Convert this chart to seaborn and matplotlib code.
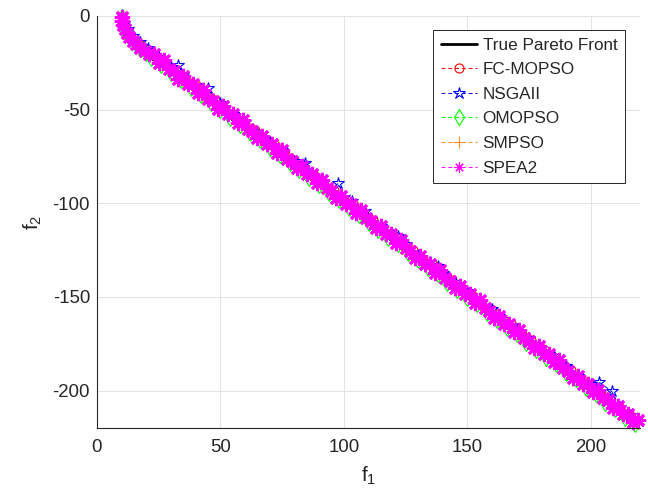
import matplotlib
matplotlib.use("Agg")
import matplotlib.pyplot as plt
import seaborn as sns

# ---------------- data ----------------
true_f1 = [10.0, 10.1, 10.4, 10.9, 11.6, 12.5, 13.7, 15.1, 16.7, 18.5, 20.4, 22.4,
           60.0, 100.0, 140.0, 180.0, 219.5]
true_f2 = [0.0, -2.6, -5.1, -7.5, -9.8, -12.0, -14.1, -16.1, -18.0, -19.8, -21.5, -23.1,
           -60.5, -100.5, -140.5, -180.5, -220.0]

fcmopso_f1 = [10.2, 10.5, 11.2, 12.2, 13.5, 15.1, 17.0, 19.1, 21.4,
              24, 28, 32, 36, 40, 44, 48, 52, 56, 60, 64, 68, 72, 76, 80, 84, 88, 92, 96,
              100, 104, 108, 112, 116, 120, 124, 128, 132, 136, 140, 144, 148, 152, 156,
              160, 164, 168, 172, 176, 180, 184, 188, 192, 196, 200, 204, 208, 212, 216]
fcmopso_f2 = [-0.5, -3.0, -5.6, -8.1, -10.5, -12.8, -15.0, -17.1, -19.1,
              -21.1, -25.8, -28.8, -33.5, -37.1, -41.8, -44.8, -49.5, -53.1, -57.8, -60.8,
              -65.5, -69.1, -73.8, -76.8, -81.5, -85.1, -89.8, -92.8, -97.5, -101.1, -105.8,
              -108.8, -113.5, -117.1, -121.8, -124.8, -129.5, -133.1, -137.8, -140.8, -145.5,
              -149.1, -153.8, -156.8, -161.5, -165.1, -169.8, -172.8, -177.5, -181.1, -185.8,
              -188.8, -193.5, -197.1, -201.8, -204.8, -209.5, -213.1]

nsgaii_f1 = [10.3, 11.0, 12.4, 14.6, 17.4, 20.5, 25, 30, 32.9, 35, 40, 45, 50, 55, 60, 65,
             70, 75, 80, 84.4, 90, 95, 97.8, 100, 103.4, 108.7, 115, 120, 122, 125, 130,
             135, 138, 140, 145, 150, 155, 160, 165, 170, 175, 180, 185, 190, 195, 200,
             203.2, 208.5, 212, 216, 219.5]
nsgaii_f2 = [0.3, -3.5, -7.0, -10.5, -13.8, -17.0, -21.7, -27.4, -26.3, -31.5, -37.0, -38.6,
             -46.7, -52.4, -56.5, -62.0, -67.2, -71.7, -77.4, -78.5, -87.0, -92.2, -89.4,
             -96.7, -99.0, -104.3, -112.0, -117.2, -117.3, -121.7, -127.4, -131.5, -133.3,
             -137.0, -142.2, -146.7, -152.4, -156.5, -162.0, -167.2, -171.7, -177.4, -181.5,
             -187.0, -192.2, -196.7, -195.3, -200.4, -209.0, -213.0, -216.5]

omopso_f1 = [10.0, 10.2, 10.7, 11.5, 12.6, 14.0, 15.7, 17.6, 19.7,
             22, 26, 30, 34, 38, 42, 46, 50, 54, 58, 62, 66, 70, 74, 78, 82, 86, 90, 94, 98,
             102, 106, 110, 114, 118, 122, 126, 130, 134, 138, 142, 146, 150, 154, 158, 162,
             166, 170, 174, 178, 182, 186, 190, 194, 198, 202, 206, 210, 214, 218]
omopso_f2 = [-0.4, -3.0, -5.7, -8.3, -10.9, -13.3, -15.6, -17.8, -19.9,
             -22.4, -26.0, -30.6, -34.1, -38.4, -42.0, -46.6, -50.1, -54.4, -58.0, -62.6,
             -66.1, -70.4, -74.0, -78.6, -82.1, -86.4, -90.0, -94.6, -98.1, -102.4, -106.0,
             -110.6, -114.1, -118.4, -122.0, -126.6, -130.1, -134.4, -138.0, -142.6, -146.1,
             -150.4, -154.0, -158.6, -162.1, -166.4, -170.0, -174.6, -178.1, -182.4, -186.0,
             -190.6, -194.1, -198.4, -202.0, -206.6, -210.1, -214.4, -218.0]

smpso_f1 = [10.1, 10.6, 11.6, 13.1, 15.0, 17.3, 19.9,
            23, 27, 31, 35, 39, 43, 47, 51, 55, 59, 63, 67, 71, 75, 79, 83, 87, 91, 95, 99,
            103, 107, 111, 115, 119, 123, 127, 131, 135, 139, 143, 147, 151, 155, 159, 163,
            167, 171, 175, 179, 183, 187, 191, 195, 199, 203, 207, 211, 215, 219]
smpso_f2 = [-1.0, -4.4, -7.6, -10.6, -13.3, -15.9, -18.3,
            -22.1, -24.9, -29.6, -34.4, -37.2, -42.1, -44.9, -49.6, -54.4, -57.2, -62.1,
            -64.9, -69.6, -74.4, -77.2, -82.1, -84.9, -89.6, -94.4, -97.2, -102.1, -104.9,
            -109.6, -114.4, -117.2, -122.1, -124.9, -129.6, -134.4, -137.2, -142.1, -144.9,
            -149.6, -154.4, -157.2, -162.1, -164.9, -169.6, -174.4, -177.2, -182.1, -184.9,
            -189.6, -194.4, -197.2, -202.1, -204.9, -209.6, -214.4, -217.2]

spea2_f1 = [10.0, 10.2, 10.6, 11.2, 12.0, 13.1, 14.4, 15.9, 17.6, 19.4, 21.2,
            23, 25, 27, 29, 31, 33, 35, 37, 39, 41, 43, 45, 47, 49, 51, 53, 55, 57, 59, 61,
            63, 65, 67, 69, 71, 73, 75, 77, 79, 81, 83, 85, 87, 89, 91, 93, 95, 97, 99, 101,
            103, 105, 107, 109, 111, 113, 115, 117, 119, 121, 123, 125, 127, 129, 131, 133,
            135, 137, 139, 141, 143, 145, 147, 149, 151, 153, 155, 157, 159, 161, 163, 165,
            167, 169, 171, 173, 175, 177, 179, 181, 183, 185, 187, 189, 191, 193, 195, 197,
            199, 201, 203, 205, 207, 209, 211, 213, 215, 217, 219]
spea2_f2 = [-0.3, -2.5, -4.8, -7.0, -9.2, -11.3, -13.3, -15.2, -17.0, -18.8, -20.3,
            -20.4, -25.0, -23.5, -28.1, -29.3, -33.4, -32.1, -36.5,
            -36.4, -41.0, -39.5, -44.1, -45.3, -49.4, -48.1, -52.5,
            -52.4, -57.0, -55.5, -60.1, -61.3, -65.4, -64.1, -68.5,
            -68.4, -73.0, -71.5, -76.1, -77.3, -81.4, -80.1, -84.5,
            -84.4, -89.0, -87.5, -92.1, -93.3, -97.4, -96.1, -100.5,
            -100.4, -105.0, -103.5, -108.1, -109.3, -113.4, -112.1, -116.5,
            -116.4, -121.0, -119.5, -124.1, -125.3, -129.4, -128.1, -132.5,
            -132.4, -137.0, -135.5, -140.1, -141.3, -145.4, -144.1, -148.5,
            -148.4, -153.0, -151.5, -156.1, -157.3, -161.4, -160.1, -164.5,
            -164.4, -169.0, -167.5, -172.1, -173.3, -177.4, -176.1, -180.5,
            -180.4, -185.0, -183.5, -188.1, -189.3, -193.4, -192.1, -196.5,
            -196.4, -201.0, -199.5, -204.1, -205.3, -209.4, -208.1, -212.5,
            -212.4, -217.0, -215.5]

x_ticks = [0, 50, 100, 150, 200]
y_ticks = [-200, -150, -100, -50, 0]
legend_labels = ["True Pareto Front", "FC-MOPSO", "NSGAII", "OMOPSO", "SMPSO", "SPEA2"]

# ---------------- styling ----------------
sns.set_style("white")
plt.rcParams["font.family"] = ["Liberation Sans", "DejaVu Sans"]
plt.rcParams["axes.unicode_minus"] = False
dark = "#262626"

fig = plt.figure(figsize=(6.48, 4.96), dpi=100)
ax = fig.add_axes([97 / 648, 1 - 428 / 496, (640 - 97) / 648, (428 - 16) / 496])

series = [
    (true_f1, true_f2, dict(color="#000000", linestyle="-", linewidth=2.0, marker=None)),
    (fcmopso_f1, fcmopso_f2, dict(color="#ff0000", marker="o", markersize=6.5)),
    (nsgaii_f1, nsgaii_f2, dict(color="#0000ff", marker="*", markersize=9)),
    (omopso_f1, omopso_f2, dict(color="#00ff00", marker="d", markersize=8)),
    (smpso_f1, smpso_f2, dict(color="#ff8c1a", marker="+", markersize=8)),
    (spea2_f1, spea2_f2, dict(color="#ff00ff", marker=(8, 2, 0), markersize=11,
                              markeredgewidth=2.0, linewidth=1.2)),
]

for (fx, fy, st), lab in zip(series, legend_labels):
    kw = dict(linestyle="--", linewidth=0.7, markerfacecolor="none",
              markeredgewidth=0.8)
    kw.update(st)
    before = len(ax.lines)
    sns.lineplot(x=fx, y=fy, ax=ax, sort=False, estimator=None)
    ln = ax.lines[before]
    ln.set_color(kw["color"])
    ln.set_linestyle(kw["linestyle"])
    ln.set_linewidth(kw["linewidth"])
    ln.set_clip_on(False)
    if kw.get("marker") is not None:
        ln.set_marker(kw["marker"])
        ln.set_markersize(kw["markersize"])
        ln.set_markerfacecolor("none")
        ln.set_markeredgecolor(kw["color"])
        ln.set_markeredgewidth(kw["markeredgewidth"])
    else:
        ln.set_marker("None")
    if kw["linestyle"] == "--":
        ln.set_dashes((4, 3))

ax.set_xlim(0, 220)
ax.set_ylim(-220, 0)
ax.set_xticks(x_ticks)
ax.set_yticks(y_ticks)
ax.set_axisbelow(True)
ax.grid(True, color="#dedede", linewidth=0.6)

for s in ["top", "right"]:
    ax.spines[s].set_visible(False)
for s in ["left", "bottom"]:
    ax.spines[s].set_color(dark)
    ax.spines[s].set_linewidth(0.8)

ax.tick_params(axis="both", direction="in", length=3, width=0.6, color=dark,
               labelcolor=dark, labelsize=13.4)
ax.tick_params(axis="x", pad=8)
ax.tick_params(axis="y", pad=5)

ax.set_xlabel(r"$\mathregular{f_1}$", fontsize=15, color=dark, labelpad=6)
ax.set_ylabel(r"$\mathregular{f_2}$", fontsize=15, color=dark, labelpad=6)

leg = ax.legend(ax.get_lines(), legend_labels, loc="upper right",
                bbox_to_anchor=(625 / 648, 1 - 30 / 496), bbox_transform=fig.transFigure,
                borderaxespad=0, fontsize=12.3, frameon=True, fancybox=False,
                edgecolor=dark, framealpha=1, handlelength=2.16, handletextpad=0.3,
                labelspacing=0.56, borderpad=0.45)
leg.get_frame().set_linewidth(0.7)
for h in leg.legend_handles[1:]:
    h.set_linewidth(0.7)
    h.set_markeredgewidth(0.8)
leg.legend_handles[5].set_markersize(7.5)

fig.savefig("out.png", dpi=100)
